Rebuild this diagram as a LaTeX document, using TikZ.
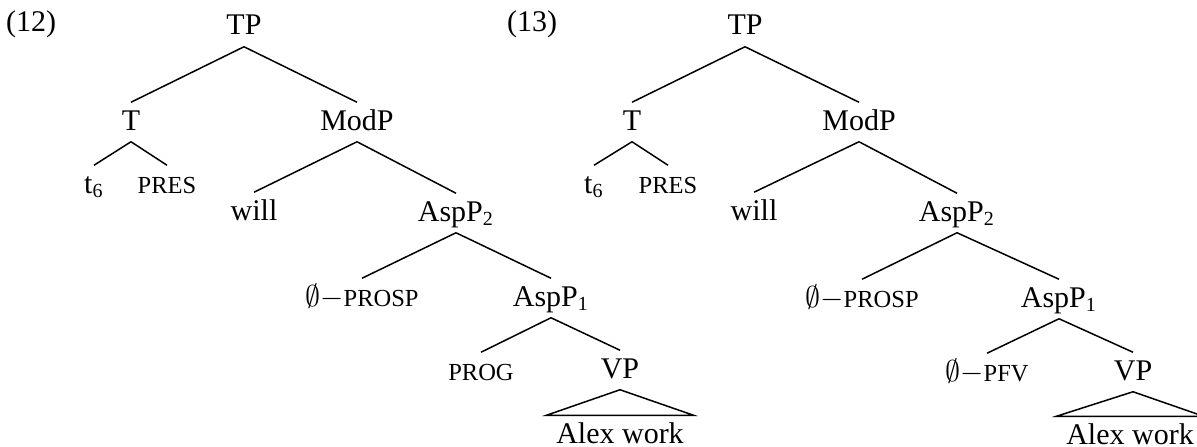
\documentclass[tikz,border=0pt]{standalone}
\usepackage{fontspec}
\setmainfont{Liberation Serif}
\usetikzlibrary{positioning}

\newcommand{\smc}[1]{{\fontsize{9.8}{11}\selectfont #1}}

\begin{document}
\begin{tikzpicture}[x=0.4pt, y=-0.4pt, line width=0.6pt,
    cat/.style={anchor=base, inner xsep=1pt, inner ysep=4.4pt,
      text height=6.4pt, text depth=0pt, font=\fontsize{12}{14}\selectfont},
    leaf/.style={cat, inner xsep=3.6pt}]
  \useasboundingbox (0,0) rectangle (1197,446);

  % (12)
  \node[cat] (ex1)   at (31,32)   {(12)};
  \node[cat] (tp1)   at (244,35)  {TP};
  \node[cat] (t1)    at (131,130) {T};
  \node[cat] (mod1)  at (357,130) {ModP};
  \node[cat] (tsix1) at (94,193)  {t\textsubscript{6}};
  \node[cat] (pres1) at (167,193) {\smc{PRES}};
  \node[cat] (will1) at (254,220) {will};
  \node[cat] (asptwo1) at (456,221) {AspP\textsubscript{2}};
  \node[cat] (prosp1)  at (362,306) {$\emptyset-$\smc{PROSP}};
  \node[cat] (asp1)  at (551,306) {AspP\textsubscript{1}};
  \node[cat] (prog1) at (481,380) {\smc{PROG}};
  \node[cat] (vp1)   at (620,378) {VP};
  \node[leaf] (alex1) at (620,443) {Alex work};

  \draw (tp1.south) -- (t1.north)
        (tp1.south) -- (mod1.north)
        (t1.south) -- (tsix1.north)
        (t1.south) -- (pres1.north)
        (mod1.south) -- (will1.north)
        (mod1.south) -- (asptwo1.north)
        (asptwo1.south) -- (prosp1.north)
        (asptwo1.south) -- (asp1.north)
        (asp1.south) -- (prog1.north)
        (asp1.south) -- (vp1.north);
  \draw (vp1.south) -- (alex1.north west) -- (alex1.north east) -- cycle;

  % (13)
  \node[cat] (ex2)   at (532,32)  {(13)};
  \node[cat] (tp2)   at (745,35)  {TP};
  \node[cat] (t2)    at (632,130) {T};
  \node[cat] (mod2)  at (859,130) {ModP};
  \node[cat] (tsix2) at (594,193) {t\textsubscript{6}};
  \node[cat] (pres2) at (668,193) {\smc{PRES}};
  \node[cat] (will2) at (754,220) {will};
  \node[cat] (asptwo2) at (957,221) {AspP\textsubscript{2}};
  \node[cat] (prosp2)  at (862,307) {$\emptyset-$\smc{PROSP}};
  \node[cat] (asp2)  at (1059,307) {AspP\textsubscript{1}};
  \node[cat] (pfv2)  at (987,381) {$\emptyset-$\smc{PFV}};
  \node[cat] (vp2)   at (1133,380) {VP};
  \node[leaf] (alex2) at (1130,444) {Alex work};

  \draw (tp2.south) -- (t2.north)
        (tp2.south) -- (mod2.north)
        (t2.south) -- (tsix2.north)
        (t2.south) -- (pres2.north)
        (mod2.south) -- (will2.north)
        (mod2.south) -- (asptwo2.north)
        (asptwo2.south) -- (prosp2.north)
        (asptwo2.south) -- (asp2.north)
        (asp2.south) -- (pfv2.north)
        (asp2.south) -- (vp2.north);
  \draw (vp2.south) -- (alex2.north west) -- (alex2.north east) -- cycle;
\end{tikzpicture}
\end{document}
